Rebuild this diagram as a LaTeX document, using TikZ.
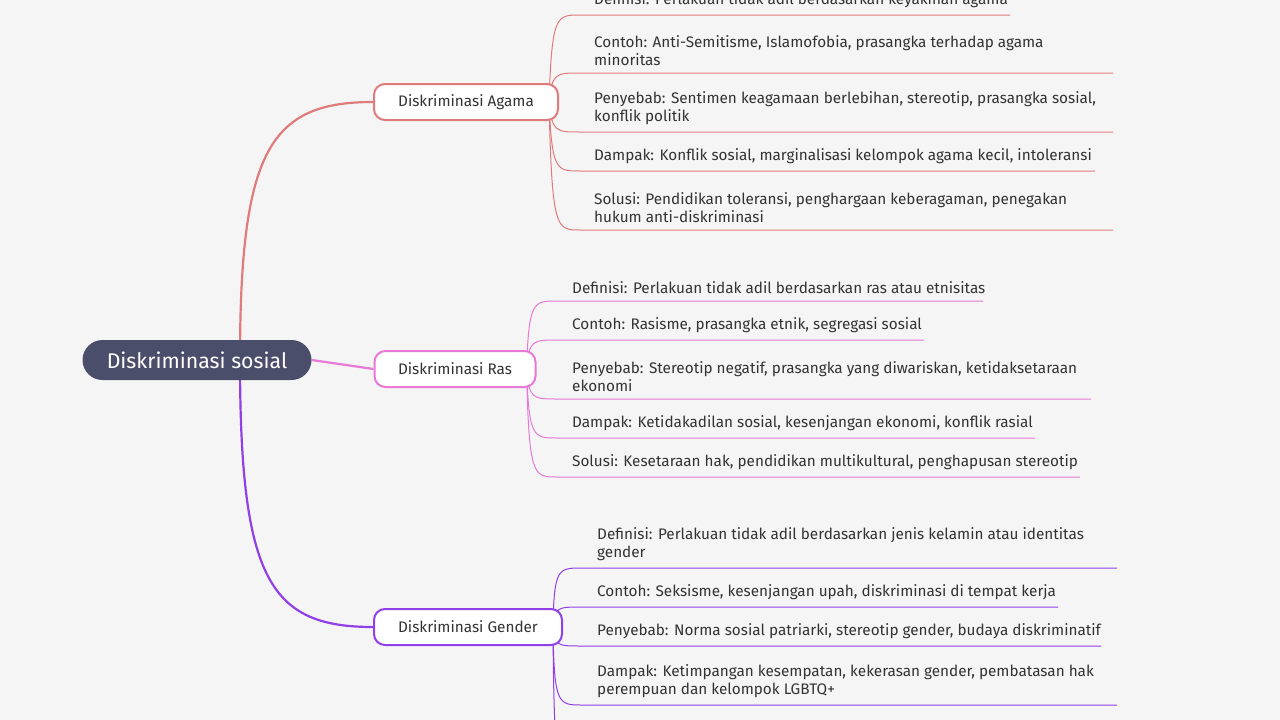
\documentclass[tikz,border=0pt]{standalone}
\usepackage{fontspec}
\setmainfont{Fira Sans}
\definecolor{bg}{HTML}{F5F5F5}
\definecolor{rootc}{HTML}{4A4E6B}
\definecolor{ca}{HTML}{E07B7B}
\definecolor{cr}{HTML}{E879D6}
\definecolor{cg}{HTML}{9140E8}
\definecolor{txt}{HTML}{333333}
\pgfdeclarelayer{back}
\pgfdeclarelayer{conn}
\pgfsetlayers{back,conn,main}
\begin{document}
\begin{tikzpicture}[x=1pt,y=-1pt,
  root/.style={fill=rootc,rounded corners=20pt,minimum width=229pt,minimum height=40pt,text=white,font=\fontsize{21.3}{24}\selectfont},
  br/.style={draw=#1,line width=2pt,fill=white,rounded corners=11pt,minimum height=36pt,text=txt,font=\fontsize{15.3}{18}\selectfont},
  leaf/.style={anchor=south west,align=left,inner sep=0pt,text=txt,font=\fontsize{15.3}{18.5}\selectfont},
  con/.style={draw=#1,line width=2.2pt},
  lc/.style={draw=#1,line width=1pt}]
\clip (0,0) rectangle (1280,720);
\begin{pgfonlayer}{back}
\fill[bg] (0,0) rectangle (1280,720);
\end{pgfonlayer}
\node[root] (R) at (197,360) {Diskriminasi sosial};
\node[br=ca,minimum width=184pt] (A) at (466,102) {Diskriminasi Agama};
\node[br=cr,minimum width=161pt] (B) at (455,369) {Diskriminasi Ras};
\node[br=cg,minimum width=188pt] (G) at (468,627) {Diskriminasi Gender};
\begin{pgfonlayer}{conn}
\draw[con=ca] (240,360) .. controls (240,150) and (270,102) .. (A.west);
\draw[con=cr] (R.east) -- (B.west);
\draw[con=cg] (240,360) .. controls (240,580) and (270,627) .. (G.west);
% Agama leaves
\foreach \y/\e/\t/\n in {15/1010/{Definisi: Perlakuan tidak adil berdasarkan keyakinan agama}/a1,
 73/1113/{Contoh: Anti-Semitisme, Islamofobia, prasangka terhadap agama\\minoritas}/a2,
 132/1113/{Penyebab: Sentimen keagamaan berlebihan, stereotip, prasangka sosial,\\konflik politik}/a3,
 171/1095/{Dampak: Konflik sosial, marginalisasi kelompok agama kecil, intoleransi}/a4,
 230/1113/{Solusi: Pendidikan toleransi, penghargaan keberagaman, penegakan\\hukum anti-diskriminasi}/a5}{
  \node[leaf] (\n) at (594,\y-7) {\t};
  \coordinate (\n e) at (\e,\y);
  \draw[lc=ca] (A.east) ++(-10,0) .. controls (552,\y) and (556,\y) .. (580,\y) -- (\n e);
}
% Ras leaves
\foreach \y/\e/\t/\n in {301/983/{Definisi: Perlakuan tidak adil berdasarkan ras atau etnisitas}/b1,
 340/924/{Contoh: Rasisme, prasangka etnik, segregasi sosial}/b2,
 399/1091/{Penyebab: Stereotip negatif, prasangka yang diwariskan, ketidaksetaraan\\ekonomi}/b3,
 438/1035/{Dampak: Ketidakadilan sosial, kesenjangan ekonomi, konflik rasial}/b4,
 477/1080/{Solusi: Kesetaraan hak, pendidikan multikultural, penghapusan stereotip}/b5}{
  \node[leaf] (\n) at (572,\y-7) {\t};
  \coordinate (\n e) at (\e,\y);
  \draw[lc=cr] (B.east) ++(-10,0) .. controls (529,\y) and (533,\y) .. (557,\y) -- (\n e);
}
% Gender leaves
\foreach \y/\e/\t/\n in {568/1117/{Definisi: Perlakuan tidak adil berdasarkan jenis kelamin atau identitas\\gender}/g1,
 607/1058/{Contoh: Seksisme, kesenjangan upah, diskriminasi di tempat kerja}/g2,
 646/1101/{Penyebab: Norma sosial patriarki, stereotip gender, budaya diskriminatif}/g3,
 705/1117/{Dampak: Ketimpangan kesempatan, kekerasan gender, pembatasan hak\\perempuan dan kelompok LGBTQ+}/g4}{
  \node[leaf] (\n) at (597,\y-7) {\t};
  \coordinate (\n e) at (\e,\y);
  \draw[lc=cg] (G.east) ++(-10,0) .. controls (554,\y) and (558,\y) .. (582,\y) -- (\n e);
}
\coordinate (g5) at (578,780);
\draw[lc=cg] (G.east) ++(-10,0) .. controls (554,780) and (558,780) .. (g5);
\end{pgfonlayer}
\end{tikzpicture}
\end{document}
